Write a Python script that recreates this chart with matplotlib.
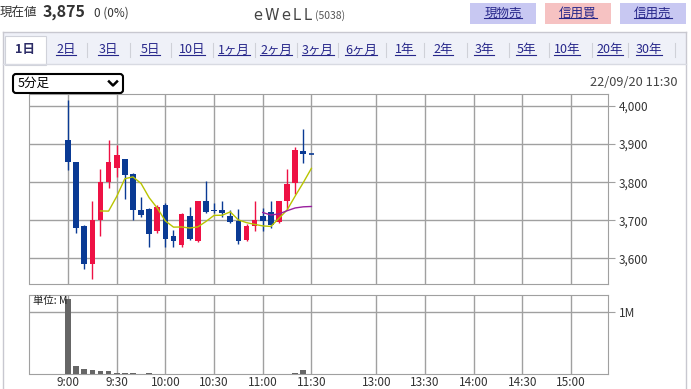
import matplotlib
matplotlib.use("Agg")
import matplotlib.pyplot as plt
from matplotlib.patches import Rectangle, FancyBboxPatch
from matplotlib.lines import Line2D
from matplotlib.transforms import IdentityTransform
import pandas as pd

plt.rcParams['font.family'] = ['Noto Sans CJK JP', 'DejaVu Sans']

# 5分足 (9:00 - 11:30)
opens = [3911, 3852, 3686, 3586, 3700, 3800, 3838, 3861, 3822, 3728, 3730,
         3671, 3741, 3658, 3634, 3712, 3645, 3751, 3728, 3728, 3712,
         3697, 3649, 3684, 3712, 3722, 3695, 3750, 3799, 3883, 3875]
highs = [4016, 3853, 3688, 3751, 3834, 3911, 3898, 3862, 3825, 3761, 3732,
         3740, 3745, 3675, 3720, 3736, 3752, 3802, 3745, 3751, 3728,
         3730, 3690, 3751, 3732, 3750, 3752, 3835, 3892, 3939, 3875]
lows = [3832, 3667, 3572, 3547, 3660, 3784, 3813, 3756, 3700, 3710, 3630,
        3668, 3630, 3630, 3630, 3648, 3643, 3719, 3720, 3710, 3693,
        3639, 3647, 3671, 3671, 3680, 3693, 3730, 3770, 3850, 3875]
closes = [3854, 3680, 3586, 3702, 3801, 3852, 3872, 3819, 3726, 3715, 3665,
          3736, 3650, 3645, 3717, 3651, 3751, 3721, 3725, 3719, 3695,
          3645, 3686, 3702, 3699, 3688, 3751, 3796, 3885, 3875, 3875]
volumes = [1.21, 0.13, 0.08, 0.065, 0.049, 0.049, 0.022, 0.022, 0.022, 0.006, 0.022,
           0.006, 0.005, 0.004, 0.005, 0.004, 0.005, 0.004, 0.004, 0.005, 0.004,
           0.004, 0.005, 0.004, 0.005, 0.004, 0.005, 0.006, 0.022, 0.065, 0.0]  # 単位: M

price_ticks = [3600, 3700, 3800, 3900, 4000]
time_labels = ["9:00", "9:30", "10:00", "10:30", "11:00", "11:30",
               "13:00", "13:30", "14:00", "14:30", "15:00"]
tabs = ["1日", "2日", "3日", "5日", "10日", "1ヶ月", "2ヶ月", "3ヶ月", "6ヶ月",
        "1年", "2年", "3年", "5年", "10年", "20年", "30年"]
buttons = ["現物売", "信用買", "信用売"]

W, H = 691, 389
fig = plt.figure(figsize=(W / 100, H / 100), dpi=100)


def fx(x):
    return x / W


def fy(y):
    return 1 - y / H


def slot(t):
    # 昼休みは詰めて表示
    h, m = map(int, t.split(":"))
    mins = h * 60 + m
    if mins <= 11 * 60 + 30:
        return (mins - 540) / 5
    return 38 + (mins - 780) / 5


RED = "#ee1144"
BLUE = "#0a3a94"
GRID = "#a0a0a0"
LINK = "#26268a"

# ---- header
fig.text(fx(0), fy(13), "現在値", fontsize=9, color="#333", va="center")
fig.text(fx(43), fy(12), "3,875", fontsize=11.5, fontweight="bold", color="#333", va="center")
fig.text(fx(94), fy(13), "0 (0%)", fontsize=8.5, color="#333", va="center")

fig.canvas.draw()
r = fig.canvas.get_renderer()
xx = 253
for ch in "eWeLL":
    t = fig.text(fx(xx), fy(15), ch, fontsize=10.5, color="#444", va="center",
                 family="DejaVu Sans")
    xx += t.get_window_extent(r).width + 2.5
fig.text(fx(xx + 1), fy(16), "(5038)", fontsize=7.5, color="#555", va="center")

btn_colors = ["#c8c8f2", "#f6c2c2", "#c8c8f2"]
btn_texts = []
for i, (b, c) in enumerate(zip(buttons, btn_colors)):
    x0 = 470 + i * 75
    fig.add_artist(Rectangle((fx(x0), fy(24)), fx(66), 21 / H, transform=fig.transFigure,
                             fc=c, ec="none"))
    btn_texts.append(fig.text(fx(x0 + 33), fy(13), b, fontsize=9, color=LINK,
                              ha="center", va="center"))

# ---- tab bar
fig.add_artist(Rectangle((fx(3), fy(64)), fx(683), 32 / H, transform=fig.transFigure,
                         fc="#eff1f8", ec="none"))
fig.add_artist(Line2D([fx(3), fx(686)], [fy(32), fy(32)], color="#c8c8d0", lw=1))
fig.add_artist(Line2D([fx(3), fx(3)], [fy(32), fy(389)], color="#c8c8d0", lw=1))
fig.add_artist(Line2D([fx(686), fx(686)], [fy(32), fy(389)], color="#c8c8d0", lw=1))
fig.add_artist(Line2D([fx(3), fx(686)], [fy(64), fy(64)], color="#d8dae2", lw=1))
fig.add_artist(Rectangle((fx(5), fy(65)), fx(41), 29 / H, transform=fig.transFigure,
                         fc="white", ec="#d0d2da", lw=0.8))

tab_x = [25, 66, 108, 150, 192, 234, 276, 318, 361, 405, 443, 484, 526, 567, 610, 649]
sep_x = [87, 130, 171, 213, 255, 297, 338, 386, 424, 467, 509, 549, 592, 628, 675]
tab_texts = []
for i, (lab, x) in enumerate(zip(tabs, tab_x)):
    if i == 0:
        fig.text(fx(x), fy(50), lab, fontsize=9, fontweight="bold", color="#2b2b66",
                 ha="center", va="center")
    else:
        tab_texts.append(fig.text(fx(x), fy(50), lab, fontsize=9, color=LINK,
                                  ha="center", va="center"))
for x in sep_x:
    fig.add_artist(Line2D([fx(x), fx(x)], [fy(43), fy(57)], color="#cfd1d8", lw=0.8))

# underline links
fig.canvas.draw()
for t in tab_texts + btn_texts:
    bb = t.get_window_extent(r)
    fig.add_artist(Line2D([bb.x0, bb.x1], [bb.y0 + 1.5, bb.y0 + 1.5], color=t.get_color(),
                          lw=0.8, transform=IdentityTransform()))

# ---- dropdown
fig.add_artist(FancyBboxPatch((13, H - 93), 110, 19, boxstyle="round,pad=0,rounding_size=3",
                              transform=IdentityTransform(), fc="white", ec="black", lw=1.5))
fig.text(fx(18), fy(83.5), "5分足", fontsize=9, color="black", va="center")
fig.add_artist(Line2D([109, 113, 117], [H - 81.5, H - 85.5, H - 81.5], color="black", lw=1.8,
                      transform=IdentityTransform()))
fig.text(fx(678), fy(83), "22/09/20 11:30", fontsize=9.2, color="#444", ha="right", va="center")

# ---- price chart
xs = list(range(len(closes)))
tick_pos = [slot(t) for t in time_labels]
XL = (-4.75, 66.56)

ax1 = fig.add_axes([fx(29.5), fy(284), fx(608) - fx(29.5), fy(94.3) - fy(284)])
for x, o, h, l, c in zip(xs, opens, highs, lows, closes):
    col = RED if c > o else BLUE
    ax1.vlines(x, l, h, color=col, lw=1, zorder=3)
    if c == o:
        ax1.hlines(c, x - 0.35, x + 0.35, color=col, lw=1.2, zorder=3)
    else:
        ax1.bar(x, abs(c - o), bottom=min(o, c), width=0.7, color=col, zorder=3)

ma5 = pd.Series(closes).rolling(5).mean()
ma25 = pd.Series(closes).rolling(25).mean()
ax1.plot(xs, ma5, color="#b8c400", lw=1, zorder=4)
ax1.plot(xs, ma25, color="#9a1f9e", lw=1, zorder=4)

ax1.set_xlim(*XL)
ax1.set_ylim(3533, 4030.6)
ax1.set_xticks(tick_pos)
ax1.set_xticklabels([])
ax1.set_yticks(price_ticks)
ax1.set_yticklabels([f"{v:,}" for v in price_ticks])
ax1.yaxis.tick_right()
ax1.tick_params(axis="y", length=5, color=GRID, labelsize=8.5, labelcolor="#333", pad=3)
ax1.tick_params(axis="x", length=0)
ax1.grid(True, color=GRID, lw=1)
ax1.set_axisbelow(True)
for s in ax1.spines.values():
    s.set_color(GRID)

# ---- volume
ax2 = fig.add_axes([fx(29.5), fy(374), fx(608) - fx(29.5), fy(295) - fy(374)])
ax2.bar(xs, volumes, width=0.7, color="#666666", zorder=3)
ax2.set_xlim(*XL)
ax2.set_ylim(0, 1.28)
ax2.set_yticks([1])
ax2.set_yticklabels(["1M"])
ax2.yaxis.tick_right()
ax2.set_xticks(tick_pos)
ax2.set_xticklabels(time_labels)
ax2.tick_params(axis="y", length=5, color=GRID, labelsize=8.5, labelcolor="#333", pad=3)
ax2.tick_params(axis="x", length=0, labelsize=8.5, labelcolor="#333", pad=1.5)
ax2.grid(True, color=GRID, lw=1)
ax2.set_axisbelow(True)
for s in ax2.spines.values():
    s.set_color(GRID)
ax2.text(0.006, 0.93, "単位: M", transform=ax2.transAxes, fontsize=7.5, color="#222",
         va="center", zorder=5)

fig.savefig("out.png", dpi=100)
